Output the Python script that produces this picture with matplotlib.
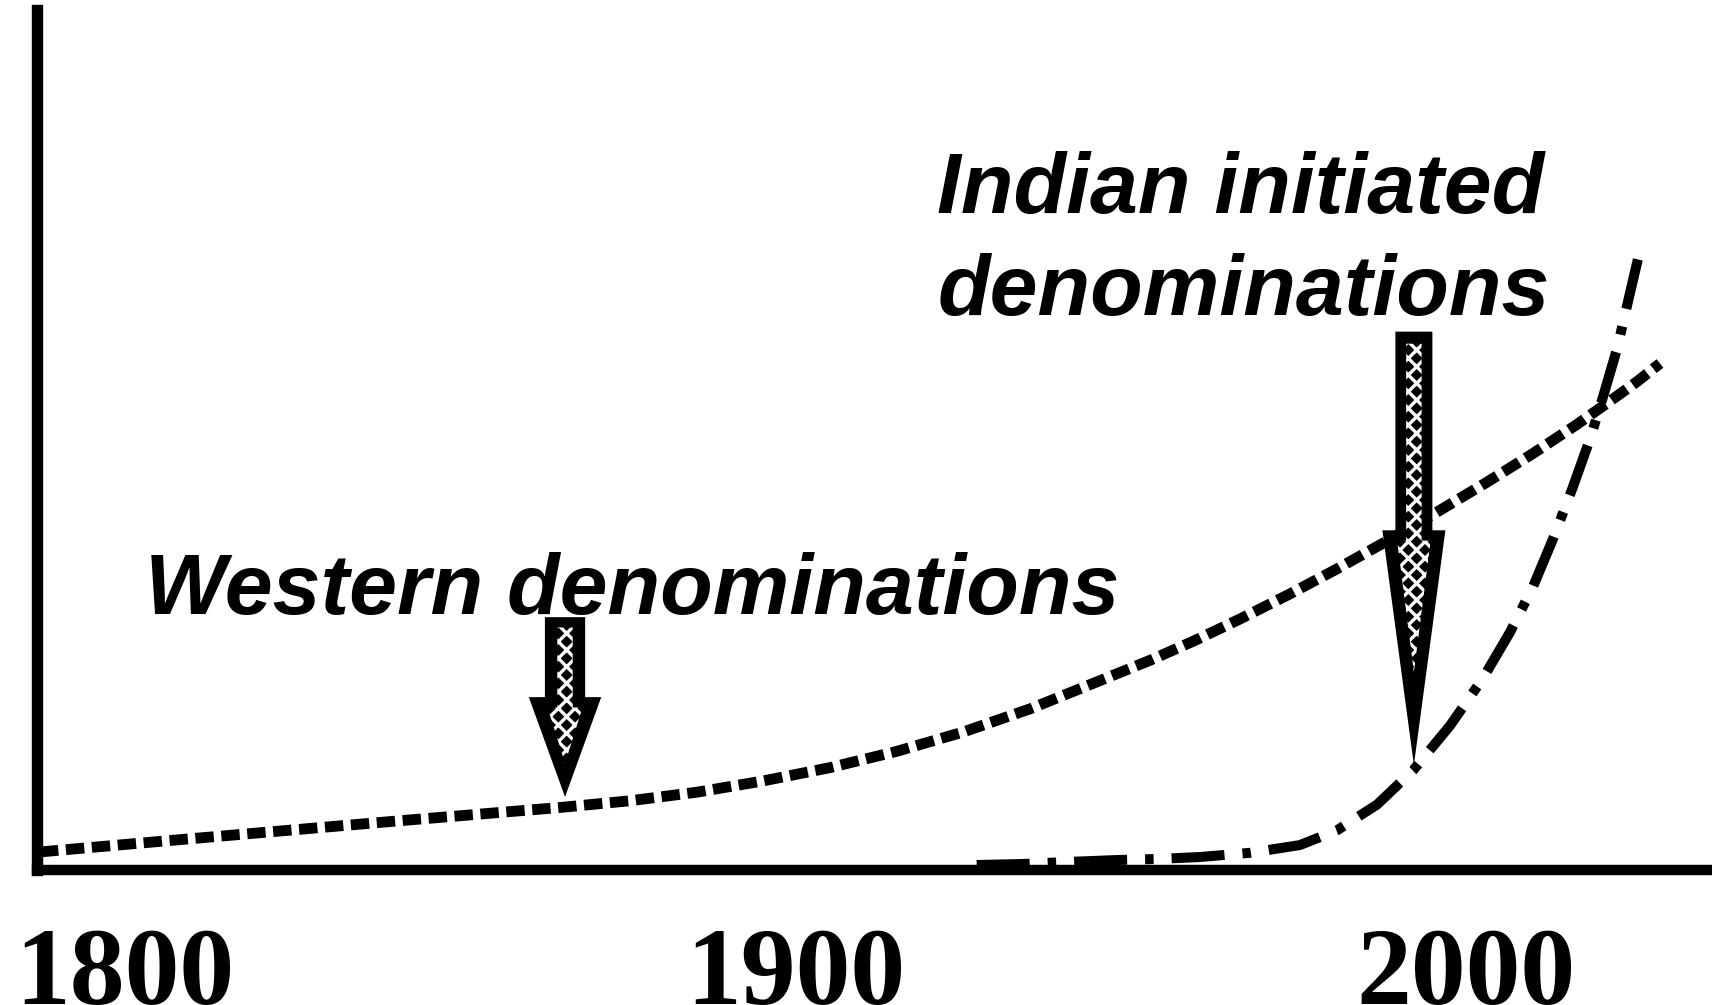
import matplotlib
matplotlib.use("Agg")
import matplotlib.pyplot as plt
from matplotlib.patches import Polygon

# ---- data (years, relative number of denominations) ----
western_years = [1787.3, 1807.0, 1824.1, 1841.3, 1865.3, 1875.3, 1885.3, 1895.1,
                 1905.1, 1915.1, 1925.0, 1935.0, 1945.0, 1952.9, 1959.3, 1966.3,
                 1973.7, 1980.7, 1987.6, 1995.6, 2003.1, 2009.9, 2016.5, 2021.4,
                 2025.5, 2028.9]
western_values = [2.1, 3.45, 4.6, 5.75, 7.3, 8.05, 9.05, 10.35,
                  11.9, 13.8, 16.05, 18.75, 21.9, 24.4, 26.6, 29.2,
                  32.1, 35.0, 38.0, 41.6, 45.1, 48.4, 51.8, 54.5,
                  56.8, 58.9]

indian_years = [1927.0, 1933.9, 1940.4, 1947.9, 1953.9, 1960.3, 1967.8, 1975.2,
                1980.7, 1986.7, 1992.1, 1997.6, 2002.5, 2006.5, 2010.0, 2013.0,
                2015.9, 2018.5, 2020.4, 2022.5, 2024.4, 2025.6]
indian_values = [0.58, 0.70, 0.93, 1.16, 1.28, 1.51, 2.0, 2.9,
                 4.6, 7.6, 11.6, 16.8, 22.3, 27.6, 33.0, 38.6,
                 44.5, 50.2, 55.0, 60.6, 67.0, 71.0]

tick_years = [1800, 1900, 2000]
tick_labels = ["1800", "1900", "2000"]

western_label = "Western denominations"
indian_label_lines = ["Indian initiated", "denominations"]

# ---- figure ----
W, H = 1712, 1005
fig = plt.figure(figsize=(W / 100, H / 100), dpi=100)
ax = fig.add_axes([37 / W, (H - 870) / H, 1 - 37 / W, 860 / H])
ax.set_xlim(1786.85, 2036.66)
ax.set_ylim(0, 100)

for s in ("top", "right"):
    ax.spines[s].set_visible(False)
ax.spines["left"].set_linewidth(8.2)
ax.spines["bottom"].set_linewidth(7.5)

ax.plot(western_years, western_values, color="black", lw=7.8,
        dashes=(1.7, 0.7), dash_capstyle="butt", solid_joinstyle="round", zorder=2)
ax.plot(indian_years, indian_values, color="black", lw=7.2,
        dashes=(5.3, 1.8, 0.85, 1.8), dash_capstyle="butt", zorder=2)

ax.set_xticks(tick_years, tick_labels)
ax.set_yticks([])
ax.tick_params(axis="x", length=0, pad=41, labelsize=79)
for lbl in ax.get_xticklabels():
    lbl.set_fontfamily("Liberation Serif")
    lbl.set_fontweight("bold")

# ---- annotation arrows (hatched block arrows) ----
plt.rcParams["hatch.linewidth"] = 2.4
arrows = [
    dict(xc=1865.6, top=29.4, base=20.1, tip=8.5, shw=3.0, hhw=5.4,
         itop=28.2, ibase=18.9, itip=12.4, ishw=1.15, ihhw=2.6),
    dict(xc=1992.2, top=62.6, base=39.5, tip=12.2, shw=2.76, hhw=4.7,
         itop=61.2, ibase=38.3, itip=23.0, ishw=1.15, ihhw=2.5),
]


def arrow_pts(xc, top, base, tip, shw, hhw):
    return [(xc - shw, top), (xc + shw, top), (xc + shw, base), (xc + hhw, base),
            (xc, tip), (xc - hhw, base), (xc - shw, base)]


for a in arrows:
    outer = Polygon(arrow_pts(a["xc"], a["top"], a["base"], a["tip"], a["shw"], a["hhw"]),
                    closed=True, facecolor="black", edgecolor="black", lw=0, zorder=5)
    inner = Polygon(arrow_pts(a["xc"], a["itop"], a["ibase"], a["itip"], a["ishw"], a["ihhw"]),
                    closed=True, facecolor="black", edgecolor="white", lw=0,
                    hatch="xx", zorder=6)
    ax.add_patch(outer)
    ax.add_patch(inner)

# ---- labels ----
txt = dict(fontsize=62, style="italic", weight="bold", family="Liberation Sans",
           ha="left", va="baseline", color="black", zorder=4)
ax.text(1802.95, 29.8, western_label, **txt)
ax.text(1921.1, 76.4, indian_label_lines[0], **txt)
ax.text(1921.1, 64.5, indian_label_lines[1], **txt)

fig.savefig("out.png", dpi=100)
